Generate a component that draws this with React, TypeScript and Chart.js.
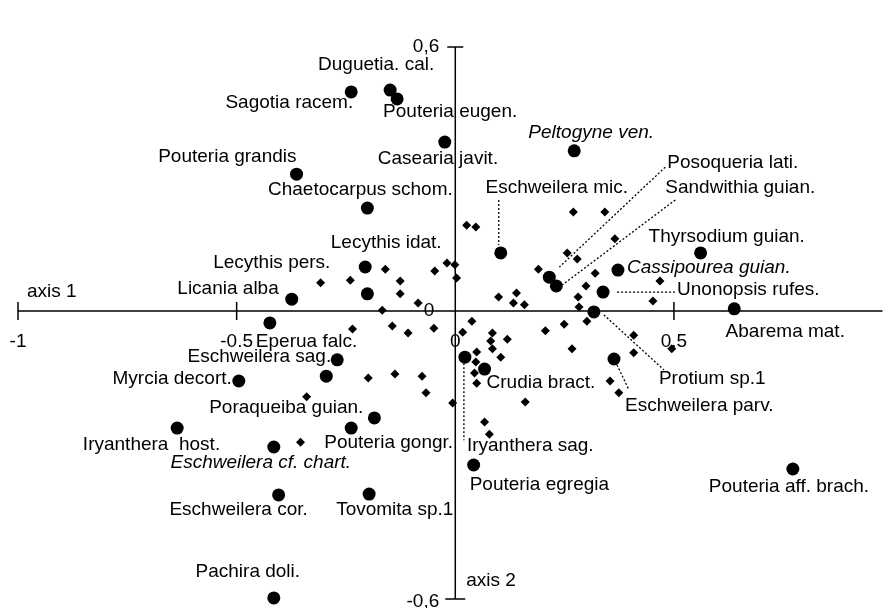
import { useEffect, useRef } from "react";
import { Chart, registerables } from "chart.js";

Chart.register(...registerables);

// ---- Data ----
const speciesNames = [
  "Duguetia. cal.",
  "Sagotia racem.",
  "Pouteria eugen.",
  "Peltogyne ven.",
  "Pouteria grandis",
  "Casearia javit.",
  "Chaetocarpus schom.",
  "Eschweilera mic.",
  "Posoqueria lati.",
  "Sandwithia guian.",
  "Thyrsodium guian.",
  "Lecythis idat.",
  "Lecythis pers.",
  "Cassipourea guian.",
  "Licania alba",
  "Unonopsis rufes.",
  "Eperua falc.",
  "Abarema mat.",
  "Eschweilera sag.",
  "Myrcia decort.",
  "Crudia bract.",
  "Protium sp.1",
  "Eschweilera parv.",
  "Poraqueiba guian.",
  "Iryanthera  host.",
  "Pouteria gongr.",
  "Eschweilera cf. chart.",
  "Iryanthera sag.",
  "Pouteria egregia",
  "Eschweilera cor.",
  "Tovomita sp.1",
  "Pouteria aff. brach.",
  "Pachira doli.",
  "",
];

const speciesX = [
  -0.149, -0.238, -0.133, 0.272, -0.363, -0.024, -0.201, 0.104, 0.215, 0.231,
  0.561, -0.206, -0.201, 0.372, -0.374, 0.338, -0.424, 0.638, -0.27, -0.495,
  0.067, 0.317, 0.363, -0.185, -0.636, -0.238, -0.415, 0.022, 0.042, -0.404,
  -0.197, 0.772, -0.415, -0.295,
];

const speciesY = [
  0.502, 0.498, 0.482, 0.364, 0.311, 0.384, 0.234, 0.132, 0.077, 0.057,
  0.132, 0.1, 0.039, 0.093, 0.027, 0.043, -0.027, 0.005, -0.111, -0.159,
  -0.132, -0.002, -0.109, -0.243, -0.266, -0.266, -0.309, -0.105, -0.35, -0.418,
  -0.416, -0.359, -0.652, -0.148,
];

const plotX = [
  -0.16, -0.047, -0.019, -0.001, 0.003, -0.308, -0.24, -0.126, -0.126, -0.085,
  -0.167, 0.026, 0.047, 0.27, 0.342, 0.365, 0.256, 0.279, 0.19, 0.32,
  0.468, 0.299, 0.281, 0.452, 0.099, 0.14, 0.133, 0.158, 0.283, -0.235,
  -0.144, -0.108, -0.049, 0.017, 0.038, 0.085, 0.081, 0.119, 0.085, 0.104,
  0.049, 0.047, 0.044, 0.049, 0.206, 0.249, 0.301, 0.267, 0.408, 0.408,
  0.495, 0.354, 0.374, 0.16, -0.006, 0.067, 0.078, -0.199, -0.138, -0.076,
  -0.067, -0.34, -0.354,
];

const plotY = [
  0.095, 0.091, 0.109, 0.105, 0.075, 0.064, 0.07, 0.068, 0.039, 0.018,
  0.002, 0.195, 0.191, 0.225, 0.225, 0.164, 0.132, 0.118, 0.095, 0.086,
  0.068, 0.057, 0.032, 0.023, 0.032, 0.041, 0.018, 0.014, 0.009, -0.041,
  -0.034, -0.05, -0.039, -0.048, -0.023, -0.05, -0.068, -0.064, -0.086, -0.105,
  -0.093, -0.116, -0.141, -0.164, -0.045, -0.03, -0.023, -0.086, -0.055, -0.095,
  -0.086, -0.159, -0.186, -0.207, -0.209, -0.252, -0.28, -0.152, -0.143, -0.148,
  -0.186, -0.195, -0.298,
];

const xTicks = [-1, -0.5, 0, 0.5];
const xTickLabels = ["-1", "-0.5", "0", "0.5"];
const xTickMarks = [-1, -0.5, 0.5];
const X_MIN = -1;
const X_MAX = 0.977;
const Y_MIN = -0.6545;
const Y_MAX = 0.6;
const yTicks = [Y_MAX, 0, Y_MIN];
const yTickLabels = ["0,6", "0", "-0,6"];
const axisTitleX = "axis 1";
const axisTitleY = "axis 2";

// ---- Label layout (pixel offsets from each species point) ----
type LabelLayout = {
  dx: number;
  dy: number;
  align: CanvasTextAlign;
  italic?: boolean;
  leader?: [number, number, number, number];
};

const labelLayout: LabelLayout[] = [
  { dx: -14, dy: -25, align: "center" },
  { dx: 2, dy: 11, align: "right" },
  { dx: -14, dy: 13, align: "left" },
  { dx: 17, dy: -18, align: "center", italic: true },
  { dx: 0, dy: -17, align: "right" },
  { dx: -67, dy: 17, align: "left" },
  { dx: -7, dy: -18, align: "center" },
  { dx: 56, dy: -65, align: "center", leader: [-2, -53, -2, -8] },
  { dx: 118, dy: -114, align: "left", leader: [116, -110, 10, -10] },
  { dx: 109, dy: -98, align: "left", leader: [119, -86, 6, -1] },
  { dx: -52, dy: -16, align: "left" },
  { dx: 21, dy: -24, align: "center" },
  { dx: -37, dy: -31, align: "right" },
  { dx: 9, dy: -2, align: "left", italic: true },
  { dx: -13, dy: -10, align: "right" },
  { dx: 74, dy: -2, align: "left", leader: [14, 0, 72, 0] },
  { dx: -14, dy: 19, align: "left" },
  { dx: 51, dy: 23, align: "center" },
  { dx: -6, dy: -3, align: "right" },
  { dx: -7, dy: -2, align: "right" },
  { dx: 2, dy: 14, align: "left" },
  { dx: 65, dy: 67, align: "left", leader: [10, 3, 70, 58] },
  { dx: 11, dy: 47, align: "left", leader: [3, 6, 15, 31] },
  { dx: -11, dy: -10, align: "right" },
  { dx: 43, dy: 17, align: "right" },
  { dx: -27, dy: 15, align: "left" },
  { dx: -13, dy: 16, align: "center", italic: true },
  { dx: 2, dy: 89, align: "left", leader: [-1, 6, -1, 83] },
  { dx: -4, dy: 20, align: "left" },
  { dx: -40, dy: 15, align: "center" },
  { dx: -33, dy: 16, align: "left" },
  { dx: -84, dy: 18, align: "left" },
  { dx: -26, dy: -26, align: "center" },
  { dx: 0, dy: 0, align: "center" },
];

const FONT_FAMILY = '"Liberation Sans", Arial, sans-serif';
const FONT_SIZE = 19;

const crossAxesPlugin = {
  id: "crossAxes",
  beforeDatasetsDraw(chart: any) {
    const { ctx } = chart;
    const x = chart.scales.x;
    const y = chart.scales.y;
    const x0 = x.getPixelForValue(0);
    const y0 = y.getPixelForValue(0);
    ctx.save();
    ctx.strokeStyle = "#000";
    ctx.lineWidth = 1.5;
    ctx.beginPath();
    ctx.moveTo(x.left, y0);
    ctx.lineTo(x.right, y0);
    ctx.moveTo(x0, y.top);
    ctx.lineTo(x0, y.bottom);
    for (const v of xTickMarks) {
      const px = x.getPixelForValue(v);
      ctx.moveTo(px, y0 - 9);
      ctx.lineTo(px, y0 + 9);
    }
    ctx.moveTo(x0 - 8, y.getPixelForValue(Y_MAX));
    ctx.lineTo(x0 + 8, y.getPixelForValue(Y_MAX));
    ctx.moveTo(x0 - 10, y.getPixelForValue(Y_MIN));
    ctx.lineTo(x0 + 10, y.getPixelForValue(Y_MIN));
    ctx.stroke();

    ctx.fillStyle = "#000";
    ctx.font = `${FONT_SIZE}px ${FONT_FAMILY}`;
    ctx.textBaseline = "middle";
    ctx.textAlign = "center";
    xTicks.forEach((v, i) => {
      ctx.fillText(xTickLabels[i], x.getPixelForValue(v), y0 + 31);
    });
    ctx.textAlign = "right";
    yTicks.forEach((v, i) => {
      const py = y.getPixelForValue(v) + (v === Y_MIN ? 3 : 0);
      ctx.fillText(yTickLabels[i], x0 - (v === 0 ? 21 : 16), py);
    });
    ctx.textAlign = "left";
    ctx.fillText(axisTitleX, x.left + 9, y0 - 19);
    ctx.fillText(axisTitleY, x0 + 11, y.bottom - 18);
    ctx.restore();
  },
  afterDatasetsDraw(chart: any) {
    const { ctx } = chart;
    const meta = chart.getDatasetMeta(0);
    ctx.save();
    ctx.fillStyle = "#000";
    ctx.strokeStyle = "#000";
    ctx.textBaseline = "middle";
    meta.data.forEach((el: any, i: number) => {
      const L = labelLayout[i];
      const name = speciesNames[i];
      if (!L || !name) return;
      const px = el.x;
      const py = el.y;
      if (L.leader) {
        ctx.save();
        ctx.lineWidth = 1.3;
        ctx.setLineDash([2, 2]);
        ctx.beginPath();
        ctx.moveTo(px + L.leader[0], py + L.leader[1]);
        ctx.lineTo(px + L.leader[2], py + L.leader[3]);
        ctx.stroke();
        ctx.restore();
      }
      ctx.font = `${L.italic ? "italic " : ""}${FONT_SIZE}px ${FONT_FAMILY}`;
      ctx.textAlign = L.align;
      ctx.fillText(name, px + L.dx, py + L.dy);
    });
    ctx.restore();
  },
};

export default function App() {
  const canvasRef = useRef<HTMLCanvasElement | null>(null);

  useEffect(() => {
    const canvas = canvasRef.current;
    if (!canvas) return;
    const species = speciesX.map((v, i) => ({ x: v, y: speciesY[i] }));
    const plots = plotX.map((v, i) => ({ x: v, y: plotY[i] }));
    const chart = new Chart(canvas, {
      type: "scatter",
      data: {
        datasets: [
          {
            label: "species",
            data: species,
            pointStyle: "circle",
            pointRadius: 6.5,
            pointBackgroundColor: "#000",
            pointBorderWidth: 0,
            borderWidth: 0,
            backgroundColor: "#000",
            showLine: false,
            clip: false,
          },
          {
            label: "plots",
            data: plots,
            pointStyle: "rectRot",
            pointRadius: 4.5,
            pointBackgroundColor: "#000",
            pointBorderWidth: 0,
            borderWidth: 0,
            backgroundColor: "#000",
            showLine: false,
            clip: false,
          },
        ],
      },
      options: {
        responsive: false,
        animation: false,
        events: [],
        layout: { padding: { left: 18, right: 2, top: 47, bottom: 9 } },
        scales: {
          x: { type: "linear", min: X_MIN, max: X_MAX, display: false },
          y: { type: "linear", min: Y_MIN, max: Y_MAX, display: false },
        },
        plugins: {
          legend: { display: false },
          tooltip: { enabled: false },
        },
      },
      plugins: [crossAxesPlugin],
    });
    return () => chart.destroy();
  }, []);

  return (
    <div
      style={{
        position: "fixed",
        left: 0,
        top: 0,
        width: 889,
        height: 608,
        background: "#fff",
      }}
    >
      <canvas
        ref={canvasRef}
        width={889}
        height={608}
        style={{ display: "block", width: 889, height: 608 }}
      />
    </div>
  );
}
